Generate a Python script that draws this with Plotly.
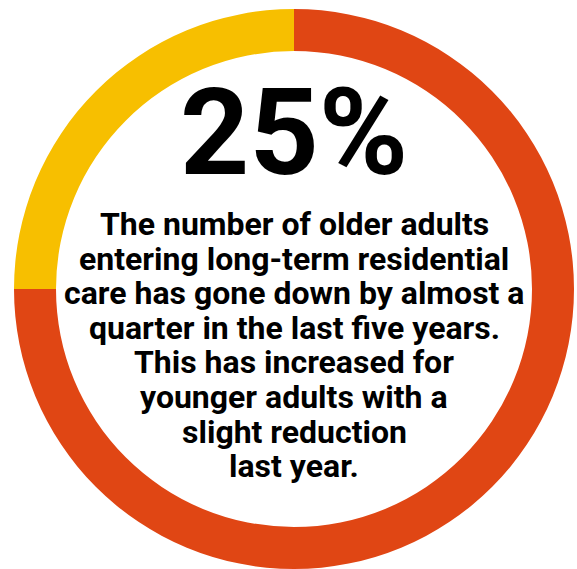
import plotly.graph_objects as go

labels = ["Other", "Reduction"]
values = [75, 25]
colors = ["#E04614", "#F7BF00"]
headline = "25%"
body_lines = [
    "The number of older adults",
    "entering long-term residential",
    "care has gone down by almost a",
    "quarter in the last five years.",
    "This has increased for",
    "younger adults with a",
    "slight reduction",
    "last year.",
]

W, H = 577, 569

fig = go.Figure(go.Pie(
    labels=labels, values=values, hole=0.85, sort=False, direction="clockwise",
    rotation=0, marker=dict(colors=colors, line=dict(width=0)),
    textinfo="none", hoverinfo="skip", showlegend=False,
    domain=dict(x=[14 / W, 574 / W], y=[0, 1 - 9 / H]),
))

annotations = [dict(
    text=headline, x=294 / W, y=1 - 133 / H, xref="paper", yref="paper",
    xanchor="center", yanchor="middle", showarrow=False,
    font=dict(family="Roboto", size=121, color="#000000", weight="bold"),
)]
for i, line in enumerate(body_lines):
    annotations.append(dict(
        text=line, x=294 / W, y=1 - (224 + 34.6 * i) / H, xref="paper", yref="paper",
        xanchor="center", yanchor="middle", showarrow=False,
        font=dict(family="Roboto", size=32, color="#000000", weight="bold"),
    ))

fig.update_layout(
    width=W, height=H, margin=dict(l=0, r=0, t=0, b=0),
    paper_bgcolor="white", plot_bgcolor="white", annotations=annotations,
)
fig.write_html(
    "out.html",
    config={"displayModeBar": False},
    post_script="document.body.style.margin='0';document.body.style.overflow='hidden';",
)
